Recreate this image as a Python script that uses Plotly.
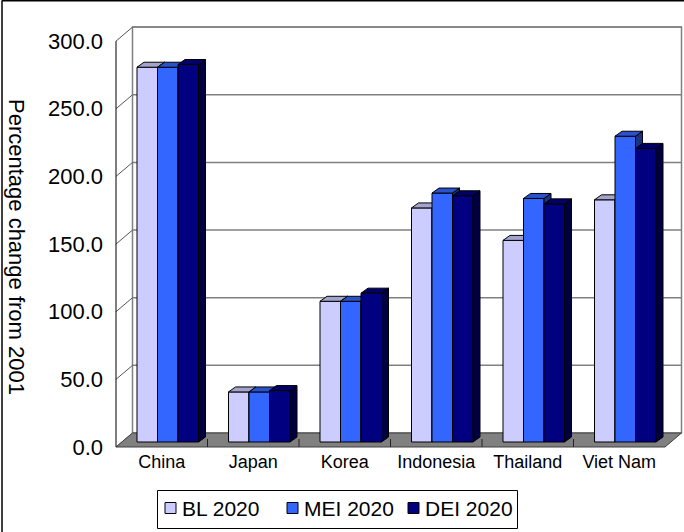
import plotly.graph_objects as go

# ---- data -------------------------------------------------------------
categories = ["China", "Japan", "Korea", "Indonesia", "Thailand", "Viet Nam"]
series_names = ["BL 2020", "MEI 2020", "DEI 2020"]
bl_2020 = [277, 37, 104, 173, 149, 179]
mei_2020 = [277, 37, 104, 184, 180, 226]
dei_2020 = [279, 38, 110, 182, 176, 217]
y_ticks = [0, 50, 100, 150, 200, 250, 300]

series_values = [bl_2020, mei_2020, dei_2020]

# ---- styling -----------------------------------------------------------
front_colors = ["#CCCCFF", "#3366FF", "#000080"]
top_colors = ["#A3A3CC", "#2952CC", "#000066"]
side_colors = ["#666680", "#1A3380", "#000040"]
FONT = "Liberation Sans, Arial, sans-serif"

W, H = 684, 532
ML, MR, MT, MB = 110, 0, 20, 83
PX_PER_CAT = 91.5        # pixels per category step
PX_PER_UNIT = 1.353      # pixels per value unit

def px_x(p):
    return p / PX_PER_CAT

def px_y(p):
    return p / PX_PER_UNIT

# 3-D box geometry (in data units)
DX, DY = px_x(16.5), px_y(14)        # full depth of floor / walls
SX, SY = px_x(6), px_y(5)            # bar front plane offset from front edge
BDX, BDY = px_x(7), px_y(5)          # bar depth
BW = px_x(20.5)                      # bar width
GROUP = 3 * BW

n = len(categories)
x_lo = -0.5 - px_x(6)
x_hi = x_lo + px_x(W - ML - MR)
y_lo = -px_y(2)
y_hi = y_lo + px_y(H - MT - MB)
top_val = y_ticks[-1]

fig = go.Figure()

def poly(xs, ys, fill, line, width=1, axes=("x", "y")):
    fig.add_trace(go.Scatter(
        x=xs, y=ys, mode="lines", fill="toself", fillcolor=fill,
        line=dict(color=line, width=width), hoverinfo="skip",
        showlegend=False, xaxis=axes[0], yaxis=axes[1]))

def lines(xs, ys, color, width=1, axes=("x", "y")):
    fig.add_trace(go.Scatter(
        x=xs, y=ys, mode="lines", line=dict(color=color, width=width),
        hoverinfo="skip", showlegend=False, connectgaps=False,
        xaxis=axes[0], yaxis=axes[1]))

# ---- walls and floor ---------------------------------------------------
bx0, bx1 = -0.5 + DX, n - 0.5 + DX
# back wall
poly([bx0, bx1, bx1, bx0, bx0], [DY, DY, top_val + DY, top_val + DY, DY],
     "white", "#808080", 1.5)
# back-wall gridlines
gx, gy = [], []
for v in y_ticks[1:]:
    gx += [bx0, bx1, None]
    gy += [v + DY, v + DY, None]
lines(gx, gy, "#808080", 1.5)
# side-wall lines joining the value axis to the back wall
sx_, sy_ = [], []
for v in y_ticks:
    sx_ += [-0.5, bx0, None]
    sy_ += [v, v + DY, None]
lines(sx_, sy_, "#555555", 1)
# floor
poly([-0.5, n - 0.5, n - 0.5 + DX, -0.5 + DX, -0.5],
     [0, 0, DY, DY, 0], "#808080", "#404040", 1)
# value axis
lines([-0.5, -0.5], [0, top_val], "black", 1)
# category separators on the floor
cx, cy = [], []
for k in range(1, n):
    cx += [k - 0.5, k - 0.5, None]
    cy += [0, px_y(8), None]
lines(cx, cy, "#222222", 1)

# ---- 3-D bars: one overlaid subplot per series (painter's order) ------
for s, (name, vals) in enumerate(zip(series_names, series_values)):
    ax = ("x%d" % (s + 2), "y%d" % (s + 2))
    off = SX - GROUP / 2 + s * BW
    tx, ty, kx, ky = [], [], [], []
    for i, v in enumerate(vals):
        x0 = i + off
        x1 = x0 + BW
        top = SY + v
        tx += [x0, x0 + BDX, x1 + BDX, x1, x0, None]
        ty += [top, top + BDY, top + BDY, top, top, None]
        kx += [x1, x1 + BDX, x1 + BDX, x1, x1, None]
        ky += [SY, SY + BDY, top + BDY, top, SY, None]
    poly(kx, ky, side_colors[s], "black", 1, ax)
    poly(tx, ty, top_colors[s], "black", 1, ax)
    fig.add_trace(go.Bar(
        x=list(range(n)), y=vals, base=SY, offset=off, width=BW,
        name=name, showlegend=False,
        marker=dict(color=front_colors[s], line=dict(color="black", width=1)),
        xaxis=ax[0], yaxis=ax[1], hovertemplate="%{y}<extra>" + name + "</extra>"))

# ---- layout ------------------------------------------------------------
plot_h = H - MT - MB
plot_w = W - ML - MR

def paper_x(p):
    return (p - ML) / plot_w

def paper_y(p):
    return (H - MB - p) / plot_h

shapes = [
    # frame of the chart area
    dict(type="line", xref="paper", yref="paper",
         x0=paper_x(2), x1=paper_x(2), y0=paper_y(0.5), y1=paper_y(H + 2),
         line=dict(color="black", width=1.5)),
    dict(type="line", xref="paper", yref="paper",
         x0=paper_x(2), x1=paper_x(W + 2), y0=paper_y(0.8), y1=paper_y(0.8),
         line=dict(color="black", width=1.5)),
    # legend box
    dict(type="rect", xref="paper", yref="paper",
         x0=paper_x(157.5), x1=paper_x(517.5), y0=paper_y(490.5), y1=paper_y(528.5),
         line=dict(color="black", width=1), fillcolor="white", layer="above"),
]
annotations = [
    dict(text="Percentage change from 2001", textangle=90,
         xref="paper", yref="paper", x=paper_x(16), y=paper_y(247),
         xanchor="center", yanchor="middle",
         showarrow=False, font=dict(size=22)),
]
# legend entries: swatch + label
legend_swatch_x = [165, 287, 408]
for s, name in enumerate(series_names):
    sx0 = legend_swatch_x[s]
    shapes.append(dict(type="rect", xref="paper", yref="paper",
                       x0=paper_x(sx0), x1=paper_x(sx0 + 11),
                       y0=paper_y(502.5), y1=paper_y(513.5),
                       fillcolor=front_colors[s], line=dict(color="black", width=1),
                       layer="above"))
    annotations.append(dict(text=name, xref="paper", yref="paper",
                            x=paper_x(sx0 + 15), y=paper_y(509),
                            xanchor="left", yanchor="middle", showarrow=False,
                            font=dict(size=21)))

layout = dict(
    width=W, height=H,
    margin=dict(l=ML, r=MR, t=MT, b=MB, autoexpand=False),
    paper_bgcolor="white", plot_bgcolor="rgba(0,0,0,0)",
    font=dict(family=FONT, color="black"),
    barmode="overlay",
    showlegend=False,
    xaxis=dict(range=[x_lo, x_hi], tickvals=list(range(n)), ticktext=categories,
               showgrid=False, zeroline=False, showline=False, ticks="",
               tickfont=dict(size=18), automargin=False, fixedrange=True),
    yaxis=dict(range=[y_lo, y_hi], tickvals=y_ticks,
               ticktext=["%.1f" % v for v in y_ticks],
               showgrid=False, zeroline=False, showline=False, ticks="",
               ticklabelstandoff=6,
               tickfont=dict(size=22), automargin=False, fixedrange=True),
    annotations=annotations,
    shapes=shapes,
)
for s in range(3):
    k = s + 2
    layout["xaxis%d" % k] = dict(range=[x_lo, x_hi], overlaying="x", visible=False,
                                 fixedrange=True)
    layout["yaxis%d" % k] = dict(range=[y_lo, y_hi], overlaying="y", visible=False,
                                 fixedrange=True)
fig.update_layout(**layout)

fig.write_html("out.html")
